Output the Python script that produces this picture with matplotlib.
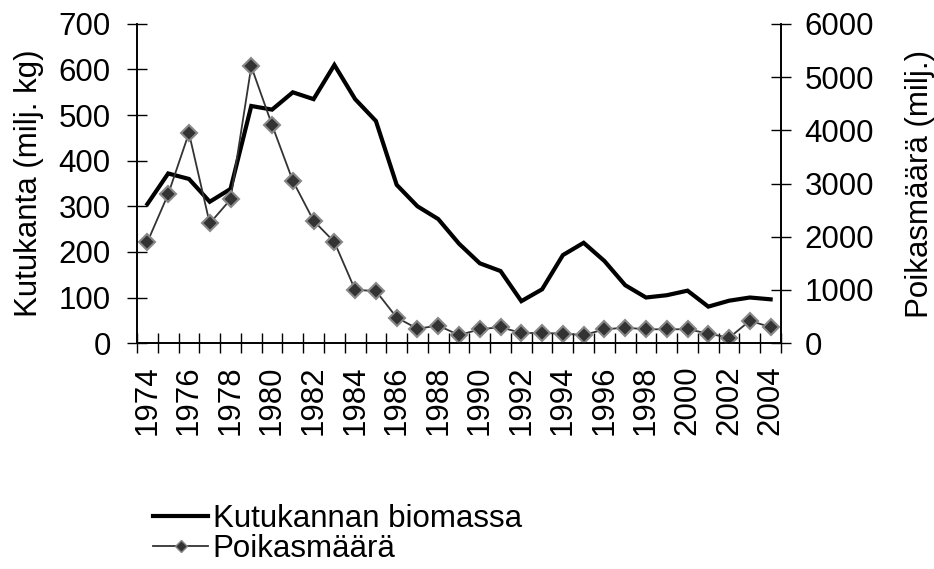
import numpy as np
import matplotlib.pyplot as plt
from matplotlib.lines import Line2D

plt.rcParams['font.family'] = ['Liberation Sans', 'DejaVu Sans']

# data
years = list(range(1974, 2005))
biomassa = [305, 372, 360, 310, 338, 520, 512, 550, 535, 610, 535, 487,
            347, 300, 272, 218, 175, 158, 92, 118, 193, 220, 180, 127,
            100, 105, 115, 80, 93, 100, 96]
poikaset = [1900, 2800, 3950, 2250, 2700, 5200, 4100, 3050, 2300, 1900, 1000, 980,
            480, 270, 330, 150, 260, 300, 190, 190, 180, 150, 260, 290,
            260, 260, 260, 180, 100, 420, 300]

fs = 22.5
x = np.arange(len(years))

fig = plt.figure(figsize=(9.34, 5.69), dpi=100)
ax = fig.add_axes([0.1467, 0.397, 0.6895, 0.561])
ax2 = ax.twinx()

ax.plot(x, biomassa, color='black', lw=3, solid_joinstyle='miter', zorder=3)
ax2.plot(x, poikaset, color='#333333', lw=1.3, marker='D', markersize=8,
         markerfacecolor='#333333', markeredgecolor='#888888', markeredgewidth=1.5)

ax.set_xlim(-0.5, len(years) - 0.5)
ax.set_ylim(0, 700)
ax2.set_ylim(0, 6000)
ax.set_yticks(np.arange(0, 701, 100))
ax2.set_yticks(np.arange(0, 6001, 1000))

# category boundary ticks, labels on every other year
ax.set_xticks(np.arange(-0.5, len(years), 1))
ax.set_xticklabels([])
ax.set_xticks(x[::2], minor=True)
ax.set_xticklabels([str(y) for y in years[::2]], minor=True, rotation=90, fontsize=fs)
ax.tick_params(axis='x', which='major', direction='inout', length=15, width=1)
ax.tick_params(axis='x', which='minor', length=0, pad=16)

ax.tick_params(axis='y', direction='inout', length=14, width=1, labelsize=fs, pad=12)
ax2.tick_params(axis='y', direction='inout', length=14, width=1, labelsize=fs, pad=10)

for a in (ax, ax2):
    a.spines['top'].set_visible(False)
    for s in ('left', 'right', 'bottom'):
        a.spines[s].set_linewidth(1.2)

ax.set_ylabel('Kutukanta (milj. kg)', fontsize=fs, labelpad=10)
ax2.set_ylabel('Poikasmäärä (milj.)', fontsize=fs, labelpad=22)

handles = [Line2D([], [], color='black', lw=3),
           Line2D([], [], color='#333333', lw=1.3, marker='D', markersize=6,
                  markerfacecolor='#333333', markeredgecolor='#888888')]
fig.legend(handles, ['Kutukannan biomassa', 'Poikasmäärä'], loc='upper left',
           bbox_to_anchor=(0.164, 0.115), bbox_transform=fig.transFigure,
           frameon=False, fontsize=fs, handlelength=1.75, handletextpad=0.15,
           labelspacing=0.0, borderpad=0, borderaxespad=0)

fig.savefig('out.png', dpi=100)
